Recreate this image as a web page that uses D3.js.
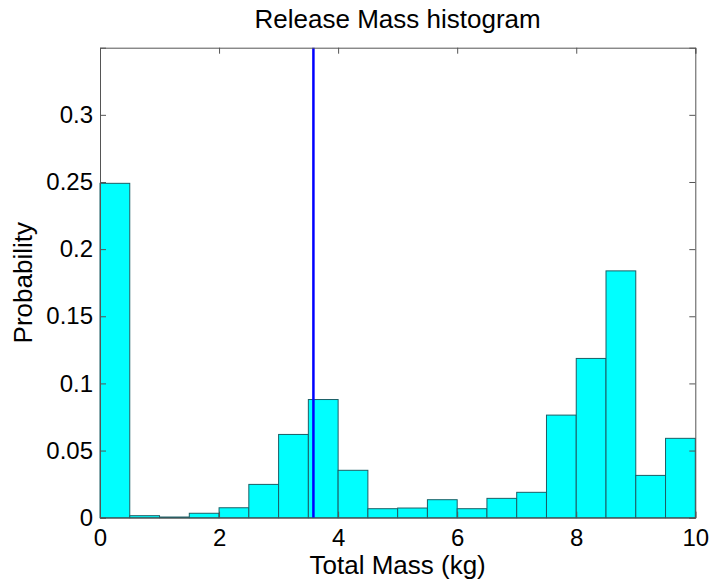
<!DOCTYPE html>
<html>
<head>
<meta charset="utf-8">
<script src="https://cdn.jsdelivr.net/npm/d3@7"></script>
<style>
  body { margin: 0; background: #fff; }
  text { font-family: "Liberation Sans", Arial, sans-serif; fill: #000; }
</style>
</head>
<body>
<div id="chart"></div>
<script>
// Histograma da massa liberada

const binEdges = [0, 0.5, 1, 1.5, 2, 2.5, 3, 3.5, 4, 4.5, 5, 5.5, 6, 6.5, 7, 7.5, 8, 8.5, 9, 9.5, 10];
const probabilities = [0.249, 0.0015, 0.0005, 0.0033, 0.0074, 0.0248, 0.062, 0.088, 0.0353, 0.0067,
                       0.0072, 0.0134, 0.0067, 0.0144, 0.0189, 0.0764, 0.1186, 0.1838, 0.0315, 0.0591];
const xTicks = [0, 2, 4, 6, 8, 10];
const yTicks = [0, 0.05, 0.1, 0.15, 0.2, 0.25, 0.3];
const meanMass = 3.585;

const width = 710, height = 584;
const margin = { top: 47.7, right: 14.7, bottom: 66.3, left: 100 };

const svg = d3.select('#chart')
    .append('svg')
    .attr('width', width)
    .attr('height', height);

const x = d3.scaleLinear().domain([0, 10]).range([margin.left, width - margin.right]);
const y = d3.scaleLinear().domain([0, 0.35]).range([height - margin.bottom, margin.top]);

const bins = probabilities.map((p, i) => ({ x0: binEdges[i], x1: binEdges[i + 1], p }));

// Barras
svg.append('g')
    .selectAll('rect')
    .data(bins)
    .enter()
    .append('rect')
    .attr('x', d => x(d.x0))
    .attr('y', d => y(d.p))
    .attr('width', d => x(d.x1) - x(d.x0))
    .attr('height', d => y(0) - y(d.p))
    .attr('fill', '#00ffff')
    .attr('stroke', '#1b5f66')
    .attr('stroke-width', 1);

// Linha vertical
svg.append('line')
    .attr('x1', x(meanMass)).attr('x2', x(meanMass))
    .attr('y1', y(0.35)).attr('y2', y(0))
    .attr('stroke', '#0000ff')
    .attr('stroke-width', 2.5);

// Eixos (ticks para dentro, espelhados)
const tickLen = 6;
const axisColor = '#555';
const tickFont = 24;
const labelFont = 26;

const xBottom = svg.append('g')
    .attr('transform', `translate(0,${y(0)})`)
    .call(d3.axisBottom(x).tickValues(xTicks).tickSize(-tickLen).tickPadding(11).tickFormat(d3.format('d')));
const xTop = svg.append('g')
    .attr('transform', `translate(0,${y(0.35)})`)
    .call(d3.axisTop(x).tickValues(xTicks).tickSize(-tickLen).tickFormat(''));
const yLeft = svg.append('g')
    .attr('transform', `translate(${x(0)},0)`)
    .call(d3.axisLeft(y).tickValues(yTicks).tickSize(-tickLen).tickPadding(7).tickFormat(d => d === 0 ? '0' : String(+d.toFixed(2))));
const yRight = svg.append('g')
    .attr('transform', `translate(${x(10)},0)`)
    .call(d3.axisRight(y).tickValues(yTicks).tickSize(-tickLen).tickFormat(''));

[xBottom, xTop, yLeft, yRight].forEach(a => {
    a.select('.domain').attr('stroke', axisColor);
    a.selectAll('.tick line').attr('stroke', axisColor);
    a.selectAll('text')
        .attr('font-size', tickFont)
        .attr('font-family', '"Liberation Sans", Arial, sans-serif')
        .attr('fill', '#000');
});

// Titulo e rotulos
svg.append('text')
    .attr('x', (x(0) + x(10)) / 2)
    .attr('y', 28)
    .attr('text-anchor', 'middle')
    .attr('font-size', labelFont)
    .text('Release Mass histogram');

svg.append('text')
    .attr('x', (x(0) + x(10)) / 2)
    .attr('y', 574)
    .attr('text-anchor', 'middle')
    .attr('font-size', labelFont)
    .text('Total Mass (kg)');

svg.append('text')
    .attr('transform', `translate(32,${(y(0) + y(0.35)) / 2}) rotate(-90)`)
    .attr('text-anchor', 'middle')
    .attr('font-size', labelFont)
    .text('Probability');
</script>
</body>
</html>
